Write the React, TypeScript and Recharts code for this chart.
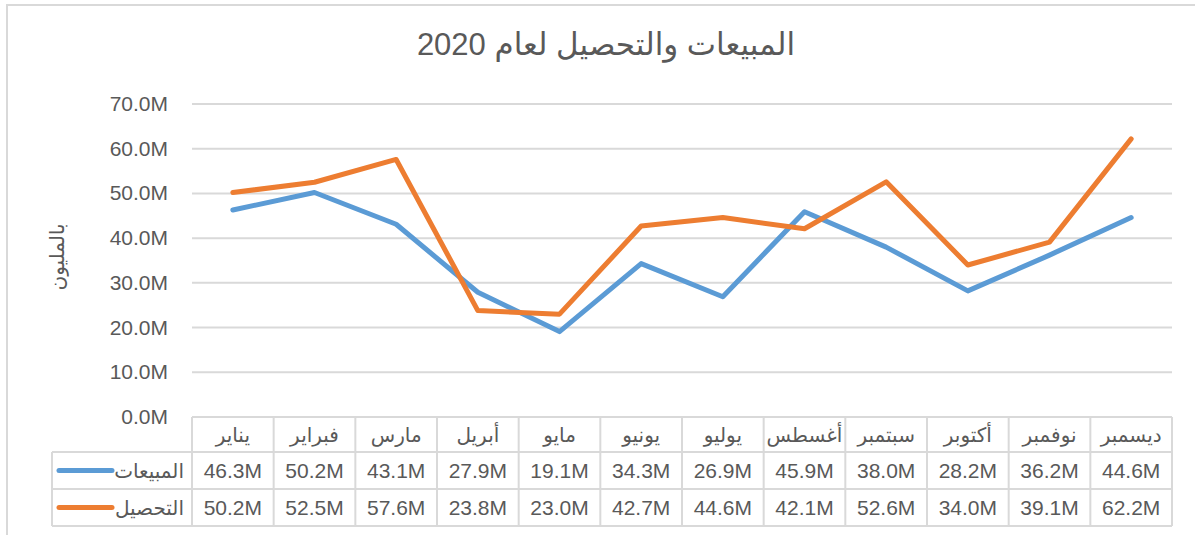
import React from 'react';
import { LineChart, Line, XAxis, YAxis, CartesianGrid } from 'recharts';

const months = ['يناير', 'فبراير', 'مارس', 'أبريل', 'مايو', 'يونيو', 'يوليو', 'أغسطس', 'سبتمبر', 'أكتوبر', 'نوفمبر', 'ديسمبر'];
const sales = [46.3, 50.2, 43.1, 27.9, 19.1, 34.3, 26.9, 45.9, 38.0, 28.2, 36.2, 44.6];
const collections = [50.2, 52.5, 57.6, 23.8, 23.0, 42.7, 44.6, 42.1, 52.6, 34.0, 39.1, 62.2];
const yTicks = [0, 10, 20, 30, 40, 50, 60, 70];
const seriesNames = ['المبيعات', 'التحصيل'];
const seriesKeys = ['sales', 'collections'];
const seriesValues = [sales, collections];
const colors = ['#5B9BD5', '#ED7D31'];
const title = 'المبيعات والتحصيل لعام 2020';
const yLabel = 'بالمليون';

const data = months.map((m, i) => ({ month: m, sales: sales[i], collections: collections[i] }));

const W = 1195;
const H = 535;
const PLOT_LEFT = 192;
const PLOT_RIGHT = 1172;
const PLOT_TOP = 104;
const TABLE_H = 118;
const LEGEND_LEFT = 52;
const GRID = '#D9D9D9';
const TEXT = '#595959';
const FONT = '"Liberation Sans", Arial, "DejaVu Sans", sans-serif';
const ROW1 = 35;
const ROW2 = 72;
const ROW3 = 109;
const BW = (PLOT_RIGHT - PLOT_LEFT) / months.length;
const NUM_SIZE = 21;
const AR_SIZE = 20;

const fmt = (v: number) => `${v.toFixed(1)}M`;

const YTick = (props: any) => {
  const { x, y, payload } = props;
  return (
    <text x={x} y={y} dy={7} textAnchor="end" fill={TEXT} fontSize={NUM_SIZE} fontFamily={FONT}>
      {fmt(payload.value)}
    </text>
  );
};

const TableTick = (props: any) => {
  const { x, y, index } = props;
  const n = months.length;
  const left = x - BW / 2;
  const right = x + BW / 2;
  const tableRight = PLOT_LEFT + BW * n;
  return (
    <g>
      <line x1={left} y1={y} x2={left} y2={y + ROW3} stroke={GRID} strokeWidth={2} />
      {index === n - 1 && (
        <line x1={right} y1={y} x2={right} y2={y + ROW3} stroke={GRID} strokeWidth={2} />
      )}
      {index === 0 && (
        <g>
          <line x1={PLOT_LEFT} y1={y} x2={tableRight} y2={y} stroke={GRID} strokeWidth={2} />
          <line x1={LEGEND_LEFT} y1={y + ROW1} x2={tableRight} y2={y + ROW1} stroke={GRID} strokeWidth={2} />
          <line x1={LEGEND_LEFT} y1={y + ROW2} x2={tableRight} y2={y + ROW2} stroke={GRID} strokeWidth={2} />
          <line x1={LEGEND_LEFT} y1={y + ROW3} x2={tableRight} y2={y + ROW3} stroke={GRID} strokeWidth={2} />
          <line x1={LEGEND_LEFT} y1={y + ROW1} x2={LEGEND_LEFT} y2={y + ROW3} stroke={GRID} strokeWidth={2} />
          {seriesNames.map((name, s) => {
            const cy = y + (s === 0 ? (ROW1 + ROW2) / 2 : (ROW2 + ROW3) / 2);
            return (
              <g key={name}>
                <line x1={59} y1={cy} x2={112} y2={cy} stroke={colors[s]} strokeWidth={5} strokeLinecap="round" />
                <text x={184} y={cy} dy={7} textAnchor="end" fill={TEXT} fontSize={AR_SIZE} fontFamily={FONT}>
                  {name}
                </text>
              </g>
            );
          })}
        </g>
      )}
      <text x={x} y={y + ROW1 / 2} dy={7} textAnchor="middle" fill={TEXT} fontSize={AR_SIZE} fontFamily={FONT}>
        {months[index]}
      </text>
      {seriesValues.map((vals, s) => (
        <text
          key={s}
          x={x}
          y={y + (s === 0 ? (ROW1 + ROW2) / 2 : (ROW2 + ROW3) / 2)}
          dy={7.5}
          textAnchor="middle"
          fill={TEXT}
          fontSize={NUM_SIZE}
          fontFamily={FONT}
        >
          {fmt(vals[index])}
        </text>
      ))}
    </g>
  );
};

export default function App() {
  return (
    <div style={{ position: 'absolute', left: 0, top: 0, width: W, height: H, background: '#fff' }}>
      <svg width={W} height={H} style={{ position: 'absolute', left: 0, top: 0 }}>
        <rect x={7} y={5} width={W + 20} height={H + 20} fill="#fff" stroke={GRID} strokeWidth={2} />
        <text x={606} y={55} textAnchor="middle" fill={TEXT} fontSize={31} fontFamily={FONT} style={{ direction: 'rtl' }}>
          {title}
        </text>
        <text
          x={57}
          y={257}
          transform="rotate(-90 57 257)"
          textAnchor="middle"
          dy={7}
          fill={TEXT}
          fontSize={AR_SIZE}
          fontFamily={FONT}
        >
          {yLabel}
        </text>
      </svg>
      <div style={{ position: 'absolute', left: 0, top: 0 }}>
        <LineChart
          width={W}
          height={H}
          data={data}
          margin={{ top: PLOT_TOP, right: W - PLOT_RIGHT, bottom: 0, left: 0 }}
        >
          <CartesianGrid vertical={false} stroke={GRID} strokeWidth={2} />
          <XAxis
            dataKey="month"
            height={TABLE_H}
            axisLine={false}
            tickLine={false}
            tickSize={0}
            tickMargin={0}
            interval={0}
            padding={{ left: BW / 2, right: BW / 2 }}
            tick={<TableTick />}
          />
          <YAxis
            width={PLOT_LEFT}
            domain={[0, 70]}
            ticks={yTicks}
            axisLine={false}
            tickLine={false}
            tickSize={0}
            tickMargin={24}
            tick={<YTick />}
          />
          {seriesKeys.map((k, s) => (
            <Line
              key={k}
              type="linear"
              dataKey={k}
              name={seriesNames[s]}
              stroke={colors[s]}
              strokeWidth={5}
              strokeLinecap="round"
              strokeLinejoin="round"
              dot={false}
              activeDot={false}
              isAnimationActive={false}
            />
          ))}
        </LineChart>
      </div>
    </div>
  );
}
